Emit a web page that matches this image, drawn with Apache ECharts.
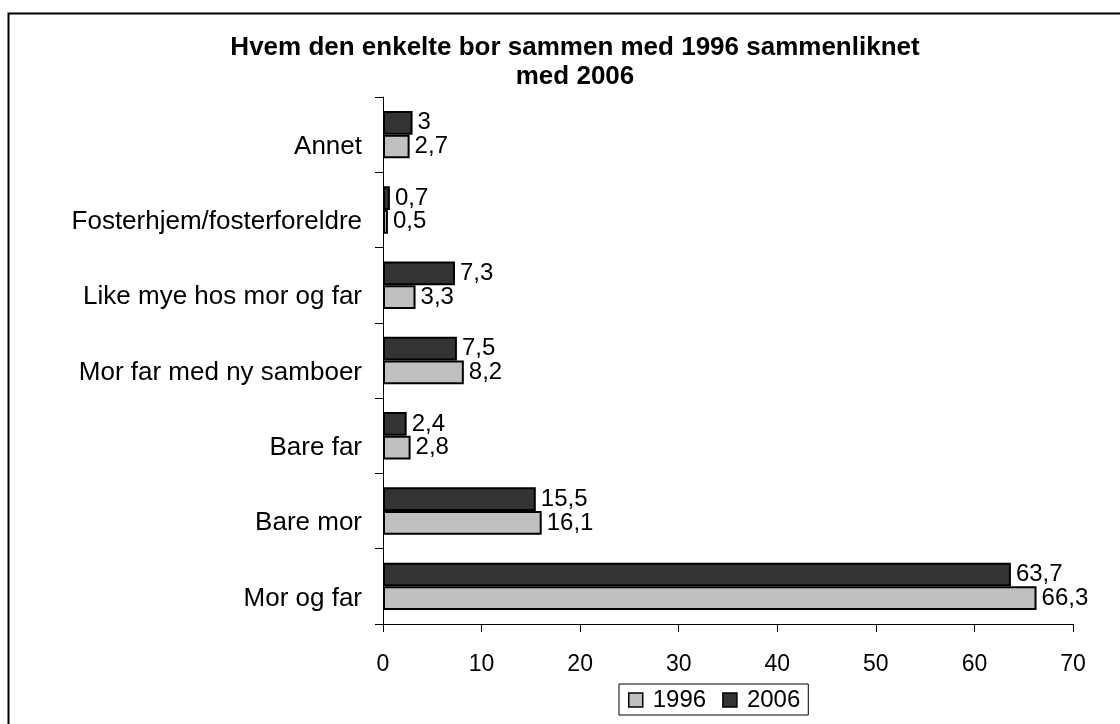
<!DOCTYPE html>
<html>
<head>
<meta charset="utf-8">
<script src="https://cdn.jsdelivr.net/npm/echarts@6/dist/echarts.min.js"></script>
<style>
html,body{margin:0;padding:0;background:#fff;}
#chart{width:1120px;height:724px;}
</style>
</head>
<body>
<div id="chart"></div>
<script>
const categories = ["Mor og far", "Bare mor", "Bare far", "Mor far med ny samboer", "Like mye hos mor og far", "Fosterhjem/fosterforeldre", "Annet"];
const values1996 = [66.3, 16.1, 2.8, 8.2, 3.3, 0.5, 2.7];
const values2006 = [63.7, 15.5, 2.4, 7.5, 7.3, 0.7, 3];
const xTicks = [0, 10, 20, 30, 40, 50, 60, 70];
const seriesNames = ["1996", "2006"];

const FONT = "Liberation Sans, Arial, Helvetica, sans-serif";
const chart = echarts.init(document.getElementById('chart'));
const fmt = p => String(p.value).replace('.', ',');
const labelCfg = {show: true, position: 'right', distance: 5, formatter: fmt, color: '#000', fontSize: 24, fontFamily: FONT};

chart.setOption({
  backgroundColor: '#fff',
  animation: false,
  title: {
    text: 'Hvem den enkelte bor sammen med 1996 sammenliknet\nmed 2006',
    left: 570, top: 28, textAlign: 'center',
    textStyle: {fontSize: 26, fontWeight: 'bold', fontFamily: FONT, color: '#000', lineHeight: 29}
  },
  graphic: [{
    type: 'rect', silent: true,
    shape: {x: 8.5, y: 13.5, width: 1300, height: 900},
    style: {fill: null, stroke: '#000', lineWidth: 2}
  }],
  legend: {
    data: seriesNames,
    left: 619, top: 684,
    padding: [4, 8, 3, 9],
    borderColor: '#000', borderWidth: 1,
    itemWidth: 14, itemHeight: 14, itemGap: 16,
    icon: 'rect',
    textStyle: {fontSize: 24, fontFamily: FONT, color: '#000', padding: [0, 0, 0, 5]},
    itemStyle: {borderColor: '#000', borderWidth: 1.5}
  },
  grid: {left: 383, right: 47, top: 97, bottom: 100, containLabel: false},
  xAxis: {
    type: 'value', min: 0, max: 70, interval: 10,
    axisLine: {show: true, lineStyle: {color: '#000', width: 1}},
    axisTick: {show: true, length: 8, lineStyle: {color: '#000'}},
    axisLabel: {fontSize: 23, fontFamily: FONT, color: '#000', margin: 29,
      formatter: v => xTicks.includes(v) ? String(v) : ''},
    splitLine: {show: false}
  },
  yAxis: {
    type: 'category', data: categories,
    axisLine: {show: true, lineStyle: {color: '#000', width: 1}},
    axisTick: {show: true, length: 8, lineStyle: {color: '#000'}},
    axisLabel: {fontSize: 26, fontFamily: FONT, color: '#000', margin: 21, verticalAlign: 'top', lineHeight: 24}
  },
  series: [
    {name: seriesNames[1], type: 'bar', data: values2006, barCategoryGap: '37%', barGap: '0%',
      itemStyle: {color: '#333333', borderColor: '#000', borderWidth: 2}, label: labelCfg},
    {name: seriesNames[0], type: 'bar', data: values1996, barCategoryGap: '37%', barGap: '0%',
      itemStyle: {color: '#c0c0c0', borderColor: '#000', borderWidth: 2}, label: labelCfg}
  ]
});
</script>
</body>
</html>
